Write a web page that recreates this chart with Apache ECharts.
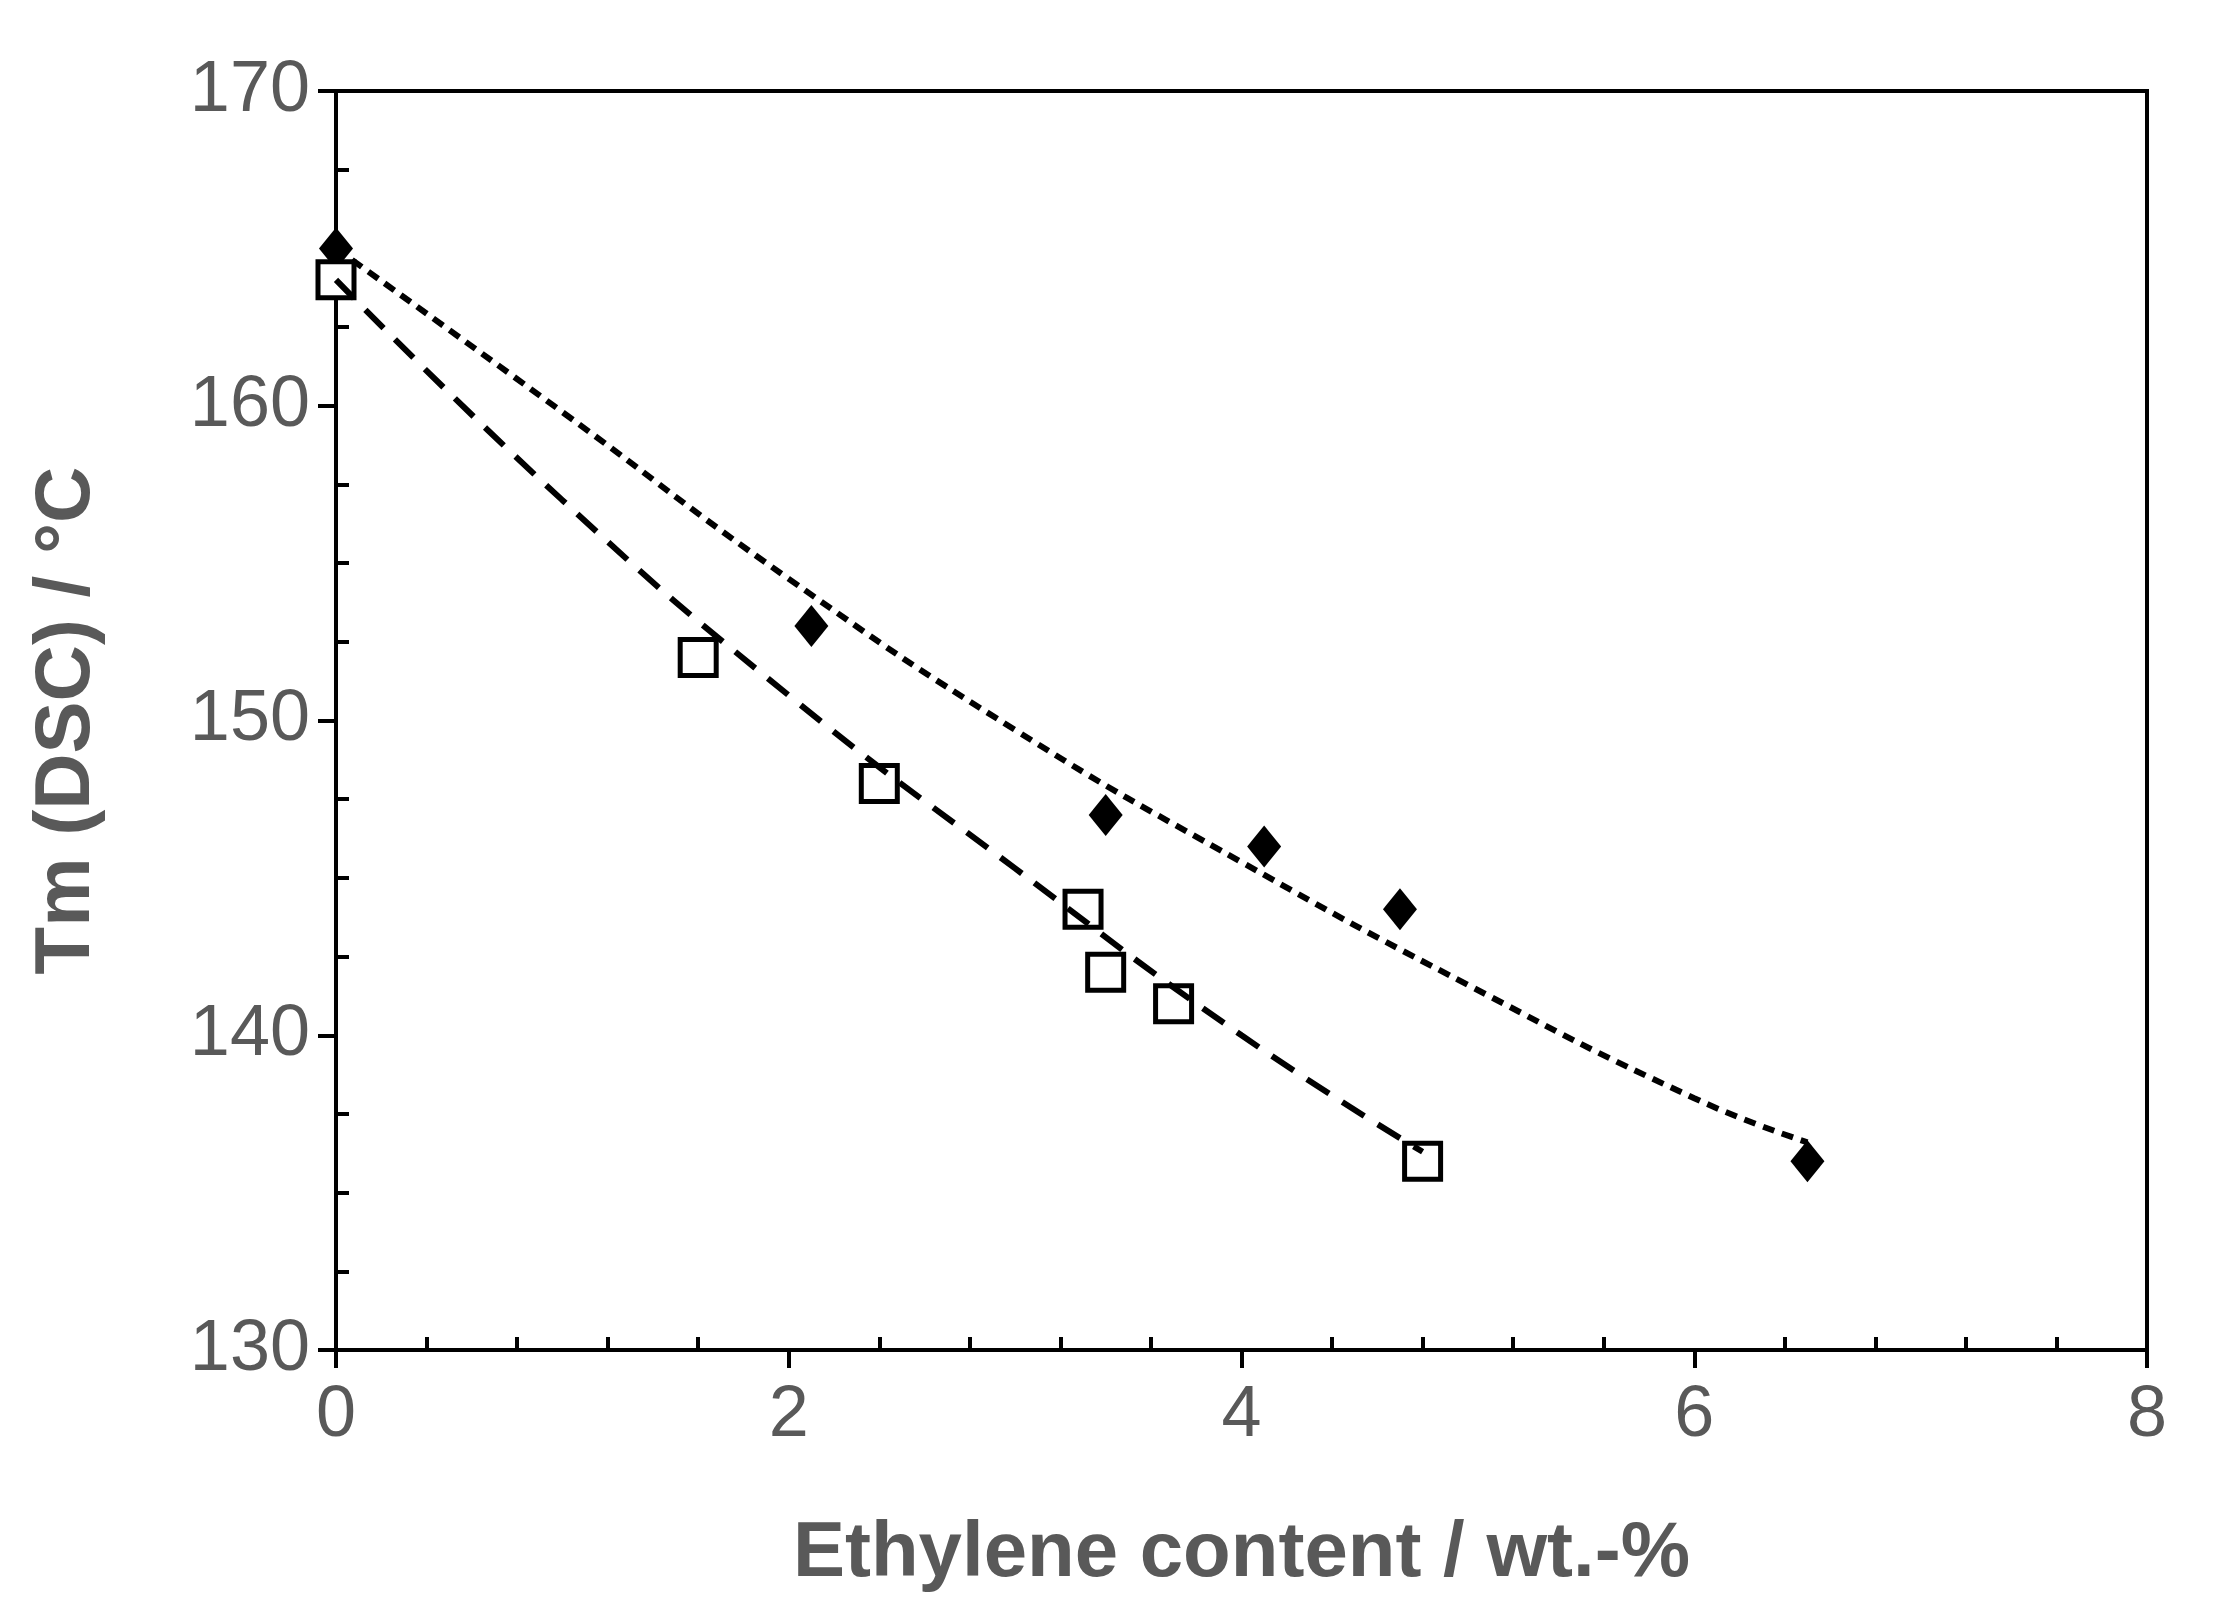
<!DOCTYPE html>
<html lang="en">
<head>
    <meta charset="UTF-8">
    <title>Tm vs ethylene content</title>
    <script type="text/javascript" src="https://cdn.jsdelivr.net/npm/echarts@6/dist/echarts.min.js"></script>
    <style>
        body { margin: 0; background: #fff; overflow: hidden; }
    </style>
</head>
<body>
    <div style="width: 2213px; height: 1615px" id="container"></div>
</body>
<script>
    // measured points
    let diamondData = [[0, 165], [2.1, 153], [3.4, 147], [4.1, 146], [4.7, 144], [6.5, 136]];
    let squareData = [[0, 164], [1.6, 152], [2.4, 148], [3.3, 144], [3.4, 142], [3.7, 141], [4.8, 136]];
    // trend lines
    let diamondTrend = [[0, 165], [1, 159.8], [2, 154.5], [3, 149.7], [4, 145.5], [5, 141.6], [6, 138], [6.5, 136.6]];
    let squareTrend = [[0, 164], [1, 157], [2, 150.8], [3, 145.3], [4, 140], [4.8, 136.3]];

    var myChart = echarts.init(document.getElementById('container'));
    let gray = '#595959';
    let font = '"Liberation Sans Narrow", "Liberation Sans", Arial, sans-serif';

    var option = {
        animation: false,
        grid: {
            left: 336, right: 66, top: 91, bottom: 265,
            show: true, borderColor: '#000', borderWidth: 4
        },
        xAxis: {
            type: 'value', min: 0, max: 8, interval: 2,
            name: 'Ethylene content / wt.-%',
            nameLocation: 'middle', nameGap: 165,
            nameTextStyle: { fontFamily: font, fontSize: 78, fontWeight: 'bold', color: gray },
            axisLine: { lineStyle: { color: '#000', width: 4 } },
            axisTick: { length: 18, lineStyle: { color: '#000', width: 4 } },
            minorTick: { show: true, splitNumber: 5, length: -13, lineStyle: { color: '#000', width: 4 } },
            axisLabel: { fontFamily: font, fontSize: 72, color: gray, margin: 30 },
            splitLine: { show: false }
        },
        yAxis: {
            type: 'value', min: 130, max: 170, interval: 10,
            name: 'Tm (DSC) / °C',
            nameLocation: 'middle', nameGap: 230,
            nameTextStyle: { fontFamily: font, fontSize: 78, fontWeight: 'bold', color: gray },
            axisLine: { lineStyle: { color: '#000', width: 4 } },
            axisTick: { length: 18, lineStyle: { color: '#000', width: 4 } },
            minorTick: { show: true, splitNumber: 4, length: -13, lineStyle: { color: '#000', width: 4 } },
            axisLabel: { fontFamily: font, fontSize: 72, color: gray, margin: 26 },
            splitLine: { show: false }
        },
        series: [{
            type: 'line', data: diamondTrend, smooth: true, symbol: 'none',
            lineStyle: { color: '#000', width: 6, type: [12, 8] }
        }, {
            type: 'line', data: squareTrend, smooth: true, symbol: 'none',
            lineStyle: { color: '#000', width: 6, type: [26, 16] }
        }, {
            type: 'scatter', data: diamondData, symbol: 'diamond', symbolSize: [34, 42],
            itemStyle: { color: '#000', opacity: 1 }
        }, {
            type: 'scatter', data: squareData, symbol: 'rect', symbolSize: 36,
            itemStyle: { color: '#fff', borderColor: '#000', borderWidth: 5, opacity: 1 }
        }]
    };
    myChart.setOption(option);
</script>
</html>
